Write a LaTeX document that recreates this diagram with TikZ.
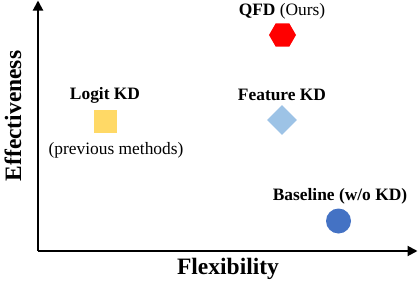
\documentclass[tikz,border=0pt]{standalone}
\usepackage{fontspec}
\setmainfont{Liberation Serif}
\usetikzlibrary{arrows.meta,shapes.geometric}
\definecolor{logitc}{HTML}{FFD966}
\definecolor{featc}{HTML}{9DC3E6}
\definecolor{basec}{HTML}{4472C4}
\definecolor{qfdc}{HTML}{FF0000}
\tikzset{
  axis/.style={line width=2pt, -{Triangle[length=10pt,width=10pt]}},
  axlabel/.style={font=\fontsize{23.5}{26}\selectfont\bfseries, inner sep=0pt},
  methlabel/.style={font=\fontsize{17.4}{20}\selectfont, inner sep=0pt},
  marker/.style={draw=none, inner sep=0pt}
}
\begin{document}
\begin{tikzpicture}[x=1pt,y=-1pt]
\useasboundingbox (0,0) rectangle (418,284);
\coordinate (o) at (38,251);
\coordinate (ytop) at (38,0.5);
\coordinate (xend) at (417.5,251);
\draw[axis] (o) -- (ytop);
\draw[axis] (o) -- (xend);
\node[axlabel, rotate=90] (yl) at (13,116) {Effectiveness};
\node[axlabel] (xl) at (228,269) {Flexibility};
% Logit KD
\node[methlabel] (logitl) at (105,95) {\textbf{Logit KD}};
\node[marker, fill=logitc, minimum size=23pt] (logit) at (105,121) {};
\node[methlabel] (prevl) at (116,150) {(previous methods)};
% QFD
\node[methlabel] (qfdl) at (282,11) {\textbf{QFD} (Ours)};
\node[marker, fill=qfdc, regular polygon, regular polygon sides=6, minimum size=27pt] (qfd) at (282.5,35) {};
% Feature KD
\node[methlabel] (featl) at (282,95) {\textbf{Feature KD}};
\node[marker, fill=featc, diamond, minimum width=30pt, minimum height=30pt] (feat) at (282,120) {};
% Baseline
\node[methlabel] (basel) at (340,196) {\textbf{Baseline (w/o KD)}};
\node[marker, fill=basec, circle, minimum size=25pt] (base) at (338.5,221) {};
\end{tikzpicture}
\end{document}
